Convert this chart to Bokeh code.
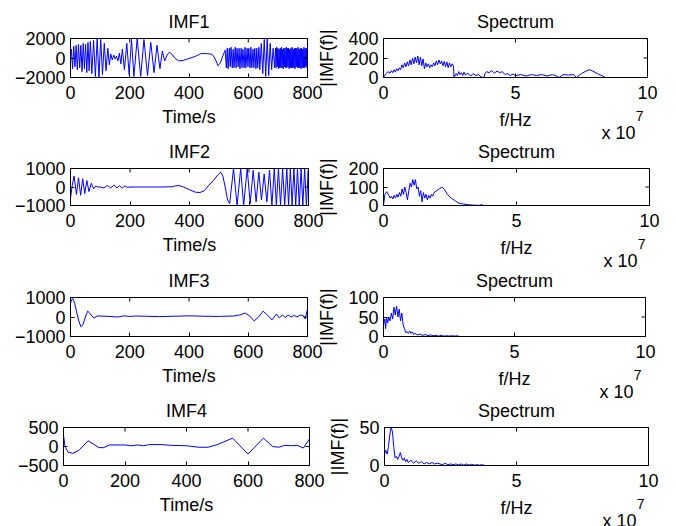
from bokeh.plotting import figure
from bokeh.models import Range1d, FixedTicker, Title
from bokeh.layouts import column, row
from bokeh.embed import file_html
from bokeh.resources import INLINE
import math

# ---------------- data ----------------
imf1 = [(0,0),(3,900),(7,-1100),(11,1200),(15,-900),(19,1300),(23,-1200),(27,1400),(31,-1000),(35,1300),
        (39,-1400),(43,1500),(47,-1100),(51,1400),(55,-1500),(59,1600),(63,-1300),(67,1700),
        (72,-1600),(78,1800),(84,-1900),(90,2000),(96,-2000),(102,1900),(108,-1700),(114,1500),(120,-1300),
        (126,1000),(131,-700),(136,400),(141,-200),(146,300),(151,-100),(155,200),(160,-300),(165,500),(170,-600),
        (175,900),(182,-1200),(190,1500),(198,-1700),(206,1900),(214,-1900),(225,2000),(237,-1900),(248,1900),
        (260,-1800),(271,1600),(282,-1500),(292,1300),(302,-1100),(310,700),(318,-300),
        (326,300),(334,600),(342,400),(352,0),(365,-300),(380,-250),(400,-50),(420,150),(440,450),(460,450),
        (475,400),(482,250),(490,-200),(498,-800),(506,-500),(514,200),(522,800),
        (526,-1000),(529,1000),(532,-1100),(536,1000),(539,-900),(542,1100),(546,-1000),(549,900),(552,-1000),
        (556,1100),(559,-1000),(562,1000),(566,-900),(569,1000),(572,-1100),(576,1000),(579,-1000),(582,900),
        (586,-1000),(589,1100),(592,-1000),(596,1000),(599,-900),(602,1000),(606,-1000),(609,1100),(612,-1000),
        (616,900),(619,-1000),(622,1000),(626,-1100),(629,1000),(632,-1000),(636,1100),(639,-1200),
        (644,1500),(649,-1600),(654,1900),(659,-1900),(664,2000),(669,-1800),(674,1500),(679,-1200),(684,1000),
        (689,-1000),(692,1000),(694,-1000),(696,1100),(698,-900),(700,1000),(702,-1100),(704,900),(706,-1000),
        (708,1000),(710,-1000),(712,1100),(714,-1000),(716,900),(718,-1100),(720,1000),(722,-900),(724,1000),
        (726,-1000),(728,1100),(730,-1000),(732,1000),(734,-900),(736,1000),(738,-1100),(740,900),(742,-1000),
        (744,1000),(746,-1000),(748,1100),(750,-1000),(752,900),(754,-1000),(756,1000),(758,-1100),(760,1000),
        (762,-900),(764,1000),(766,-1000),(768,1100),(770,-1000),(772,900),(774,-1000),(776,1000),(778,-1100),
        (780,1000),(782,-1000),(784,900),(786,-1000),(788,1100),(790,-1000),(792,1000),(794,-900),(796,1000),
        (798,-1000),(800,1000)]

imf2 = [(0,-600),(6,100),(12,600),(20,-400),(27,500),(34,-450),(41,450),(48,-350),(55,350),(62,-250),(70,200),
        (78,-100),(85,50),(92,0),(100,0),(112,-50),(124,80),(135,-50),(147,100),(156,-60),(164,80),(174,-60),
        (183,60),(192,-20),(200,0),(250,0),(300,0),(340,10),(350,50),(365,80),(380,0),(400,-150),(420,-280),
        (435,-300),(450,-200),(465,100),(480,350),(495,650),(505,800),(512,600),(520,0),(528,-700),(535,-900),
        (548,1000),(560,-1000),(572,1000),(582,-1000),(594,1000),(604,-900),(614,900),(624,-800),(633,800),
        (642,-700),(651,700),(660,-800),(669,900),(677,-1000),(685,1000),(692,-1000),(699,1000),(706,-1000),
        (713,1000),(720,-1000),(727,1000),(733,-1000),(739,1000),(745,-1000),(751,1000),(757,-1000),(763,1000),
        (769,-1000),(775,1000),(781,-1000),(787,1000),(793,-1000),(799,900),(800,-300)]

imf3 = [(0,700),(4,900),(8,950),(14,700),(20,300),(28,-200),(35,-500),(42,-400),(50,0),(58,300),(65,200),
        (72,50),(80,-50),(90,50),(100,50),(130,30),(160,0),(180,60),(200,30),(220,50),(250,40),(300,20),
        (350,40),(400,60),(450,40),(500,30),(550,50),(570,100),(590,200),(605,50),(620,-200),(635,0),(650,300),
        (665,100),(680,-150),(695,150),(705,-50),(715,100),(725,-20),(735,100),(745,0),(755,80),(765,0),
        (775,100),(785,80),(792,-100),(800,400)]

imf4 = [(0,300),(5,0),(15,-150),(30,-180),(50,-100),(80,150),(100,50),(115,-30),(130,-30),(150,40),(200,40),
        (220,20),(240,40),(260,20),(280,50),(320,50),(350,30),(400,20),(440,-20),(470,-20),(500,50),(550,220),
        (600,-200),(650,220),(680,0),(700,-20),(720,30),(740,20),(760,30),(780,-40),(800,200)]

# spectra: frequency in units of 1e7 Hz, magnitude |IMF(f)|
spec1 = [(0,0),(0.1,40),(0.17,60),(0.25,45),(0.3,70),(0.35,50),(0.4,80),(0.45,55),(0.5,90),(0.55,70),(0.6,100),
         (0.65,80),(0.7,130),(0.75,100),(0.8,150),(0.85,110),(0.9,160),(0.95,120),(1.0,180),(1.05,130),(1.1,200),
         (1.15,140),(1.2,210),(1.25,150),(1.3,220),(1.35,130),(1.4,210),(1.45,120),(1.5,190),(1.55,90),(1.6,150),
         (1.65,110),(1.7,140),(1.75,100),(1.8,130),(1.85,110),(1.9,150),(1.95,120),(2.0,170),(2.05,130),(2.1,180),
         (2.15,140),(2.2,170),(2.25,120),(2.3,165),(2.35,110),(2.4,160),(2.45,100),(2.5,150),(2.55,110),(2.6,140),
         (2.65,120),(2.67,0),(2.75,40),(2.8,20),(2.85,60),(2.9,30),(2.95,50),(3.0,20),(3.05,55),(3.1,25),(3.2,45),
         (3.3,15),(3.4,40),(3.5,20),(3.6,30),(3.7,5),(3.8,0),(3.85,40),(3.9,60),(4.0,50),(4.1,70),(4.2,45),
         (4.3,65),(4.4,50),(4.5,60),(4.6,30),(4.7,40),(4.8,20),(4.9,35),(5.0,20),(5.2,30),(5.4,15),(5.6,30),
         (5.8,20),(6.0,30),(6.2,15),(6.4,30),(6.6,10),(6.65,0),(6.8,30),(7.0,25),(7.2,30),(7.3,0),(7.5,40),
         (7.7,70),(7.8,80),(7.9,70),(8.1,40),(8.3,15),(8.4,0),(10.0,0)]

spec2 = [(0,0),(0.05,60),(0.12,75),(0.2,55),(0.25,40),(0.3,50),(0.35,35),(0.4,55),(0.45,40),(0.5,60),(0.55,45),
         (0.6,70),(0.65,50),(0.7,90),(0.75,60),(0.8,100),(0.85,70),(0.9,30),(0.95,80),(1.0,120),(1.05,100),
         (1.1,140),(1.15,110),(1.2,140),(1.25,90),(1.3,100),(1.35,50),(1.4,80),(1.45,20),(1.5,70),(1.55,40),
         (1.6,60),(1.65,30),(1.7,55),(1.75,40),(1.8,60),(1.85,50),(1.9,70),(2.0,80),(2.1,90),(2.2,100),(2.3,85),
         (2.4,60),(2.5,45),(2.6,35),(2.7,25),(2.8,15),(2.9,10),(3.0,8),(3.2,4),(3.4,2),(3.6,1),(3.7,5),(3.75,0),
         (10.0,0)]

spec3 = [(0,30),(0.05,45),(0.08,20),(0.12,50),(0.16,35),(0.2,50),(0.25,40),(0.3,60),(0.35,45),(0.4,75),
         (0.45,55),(0.5,78),(0.55,50),(0.6,70),(0.65,40),(0.7,60),(0.75,30),(0.8,20),(0.85,10),(0.9,12),(0.95,8),
         (1.0,14),(1.05,8),(1.1,12),(1.15,5),(1.2,8),(1.3,4),(1.4,6),(1.5,3),(1.6,5),(1.7,2),(1.8,4),(1.9,2),
         (2.0,3),(2.1,1),(2.2,3),(2.3,1),(2.4,2),(2.5,1),(2.6,2),(2.7,1),(2.8,2),(2.9,0),(10.0,0)]

spec4 = [(0,15),(0.05,20),(0.1,15),(0.15,25),(0.2,40),(0.25,50),(0.3,45),(0.35,25),(0.4,10),(0.45,12),(0.5,8),
         (0.55,12),(0.6,17),(0.65,10),(0.7,7),(0.75,10),(0.8,5),(0.85,8),(0.9,4),(1.0,7),(1.1,3),(1.2,6),(1.3,3),
         (1.4,5),(1.5,2),(1.6,4),(1.7,2),(1.8,4),(1.9,2),(2.0,3),(2.2,1),(2.3,3),(2.4,1),(2.5,2),(2.6,1),(2.7,2),
         (2.8,1),(2.9,2),(3.0,0.5),(3.1,2),(3.2,0.5),(3.3,1.5),(3.4,0.5),(3.5,1),(3.6,0.5),(3.7,1),(3.8,0),(10.0,0)]

imf_titles = ["IMF1", "IMF2", "IMF3", "IMF4"]
imf_yranges = [(-2000, 2000), (-1000, 1000), (-1000, 1000), (-500, 500)]
imf_yticks = [[-2000, 0, 2000], [-1000, 0, 1000], [-1000, 0, 1000], [-500, 0, 500]]
spec_yranges = [(0, 400), (0, 200), (0, 100), (0, 50)]
spec_yticks = [[0, 200, 400], [0, 100, 200], [0, 50, 100], [0, 50]]
time_ticks = [0, 200, 400, 600, 800]
freq_ticks = [0, 5, 10]

FONT = "Liberation Sans"
FS = "18px"


def style_axis(ax, ticks, standoff):
    ax.ticker = FixedTicker(ticks=ticks)
    ax.minor_tick_line_color = None
    ax.major_tick_in = 4
    ax.major_tick_out = 0
    ax.axis_line_color = "black"
    ax.major_tick_line_color = "black"
    ax.major_label_text_font = FONT
    ax.major_label_text_color = "black"
    ax.major_label_text_font_size = FS
    ax.major_label_standoff = standoff
    ax.axis_label_text_font = FONT
    ax.axis_label_text_font_size = FS
    ax.axis_label_text_font_style = "normal"
    ax.axis_label_text_color = "black"


def make_panel(data, xr, yr, xt, yt, title, xlabel, ylabel, W, H, bl, br, bt, bb, spectrum, mtop):
    p = figure(width=W, height=H, x_range=Range1d(*xr), y_range=Range1d(*yr),
               output_backend="svg", toolbar_location=None, tools="",
               min_border_left=bl, min_border_right=br, min_border_top=bt, min_border_bottom=bb)
    p.grid.visible = False
    p.outline_line_color = "black"
    p.outline_line_alpha = 1
    p.background_fill_color = "white"
    p.border_fill_color = None
    p.title.text = title
    p.title.align = "center"
    p.title.vertical_align = "top"
    p.title.text_font = FONT
    p.title.text_font_size = FS
    p.title.text_font_style = "normal"
    p.title.text_color = "black"
    p.title.standoff = 9
    xa = p.xaxis[0]
    ya = p.yaxis[0]
    style_axis(xa, xt, 8)
    style_axis(ya, yt, 5)
    xa.axis_label = xlabel
    xa.axis_label_standoff = 8 if spectrum else 5
    if ylabel:
        ya.axis_label = ylabel
        ya.axis_label_standoff = 8
    xs = [d[0] for d in data]
    ys = [d[1] for d in data]
    p.line(xs, ys, line_color="#0000ff", line_width=1)
    # mirrored inward ticks on the top and right edges (half of each dash is clipped by the frame)
    p.scatter(x=xt, y=[yr[1]] * len(xt), marker="dash", angle=math.pi / 2, size=8,
              line_color="black", line_width=1)
    p.scatter(x=[xr[1]] * len(yt), y=yt, marker="dash", size=8, line_color="black", line_width=1)
    if spectrum:
        p.margin = (-mtop, 0, 0, -15)
        t1 = Title(text="x 10", align="right", vertical_align="top", offset=12, standoff=-20,
                   text_font=FONT, text_font_size=FS, text_font_style="normal", text_color="black")
        p.add_layout(t1, "below")
        t2 = Title(text="7", align="right", vertical_align="top", offset=4, standoff=-48,
                   text_font=FONT, text_font_size="14px", text_font_style="normal", text_color="black")
        p.add_layout(t2, "below")
    else:
        p.margin = (-mtop, 0, 0, 0)
    return p


imfs = [imf1, imf2, imf3, imf4]
specs = [spec1, spec2, spec3, spec4]
EXTRA = 8
heights = [135 + EXTRA, 129 + EXTRA, 130 + EXTRA, 132]
overlap = [0, EXTRA, EXTRA, EXTRA]
tops = [38, 33, 33, 33]
frame_h = [39, 37, 39, 38]
left_geo = [(70, 237), (70, 238), (70, 237), (63, 246)]
right_geo = [(73, 264), (73, 266), (73, 262), (74, 264)]
WL, WR = 325, 358

rows = []
for i in range(4):
    H = heights[i]
    bt = tops[i]
    bb = H - bt - frame_h[i]
    bl, fw = left_geo[i]
    pl = make_panel(imfs[i], (0, 800), imf_yranges[i], time_ticks, imf_yticks[i], imf_titles[i],
                    "Time/s", None, WL, H, bl, WL - bl - fw, bt, bb, False, overlap[i])
    bl2, fw2 = right_geo[i]
    pr = make_panel(specs[i], (0, 10), spec_yranges[i], freq_ticks, spec_yticks[i], "Spectrum",
                    "f/Hz", "|IMF(f)|", WR, H, bl2, WR - bl2 - fw2, bt, bb, True, overlap[i])
    rows.append(row(pl, pr))

layout = column(*rows)
open("out.html", "w").write(file_html(layout, INLINE))
